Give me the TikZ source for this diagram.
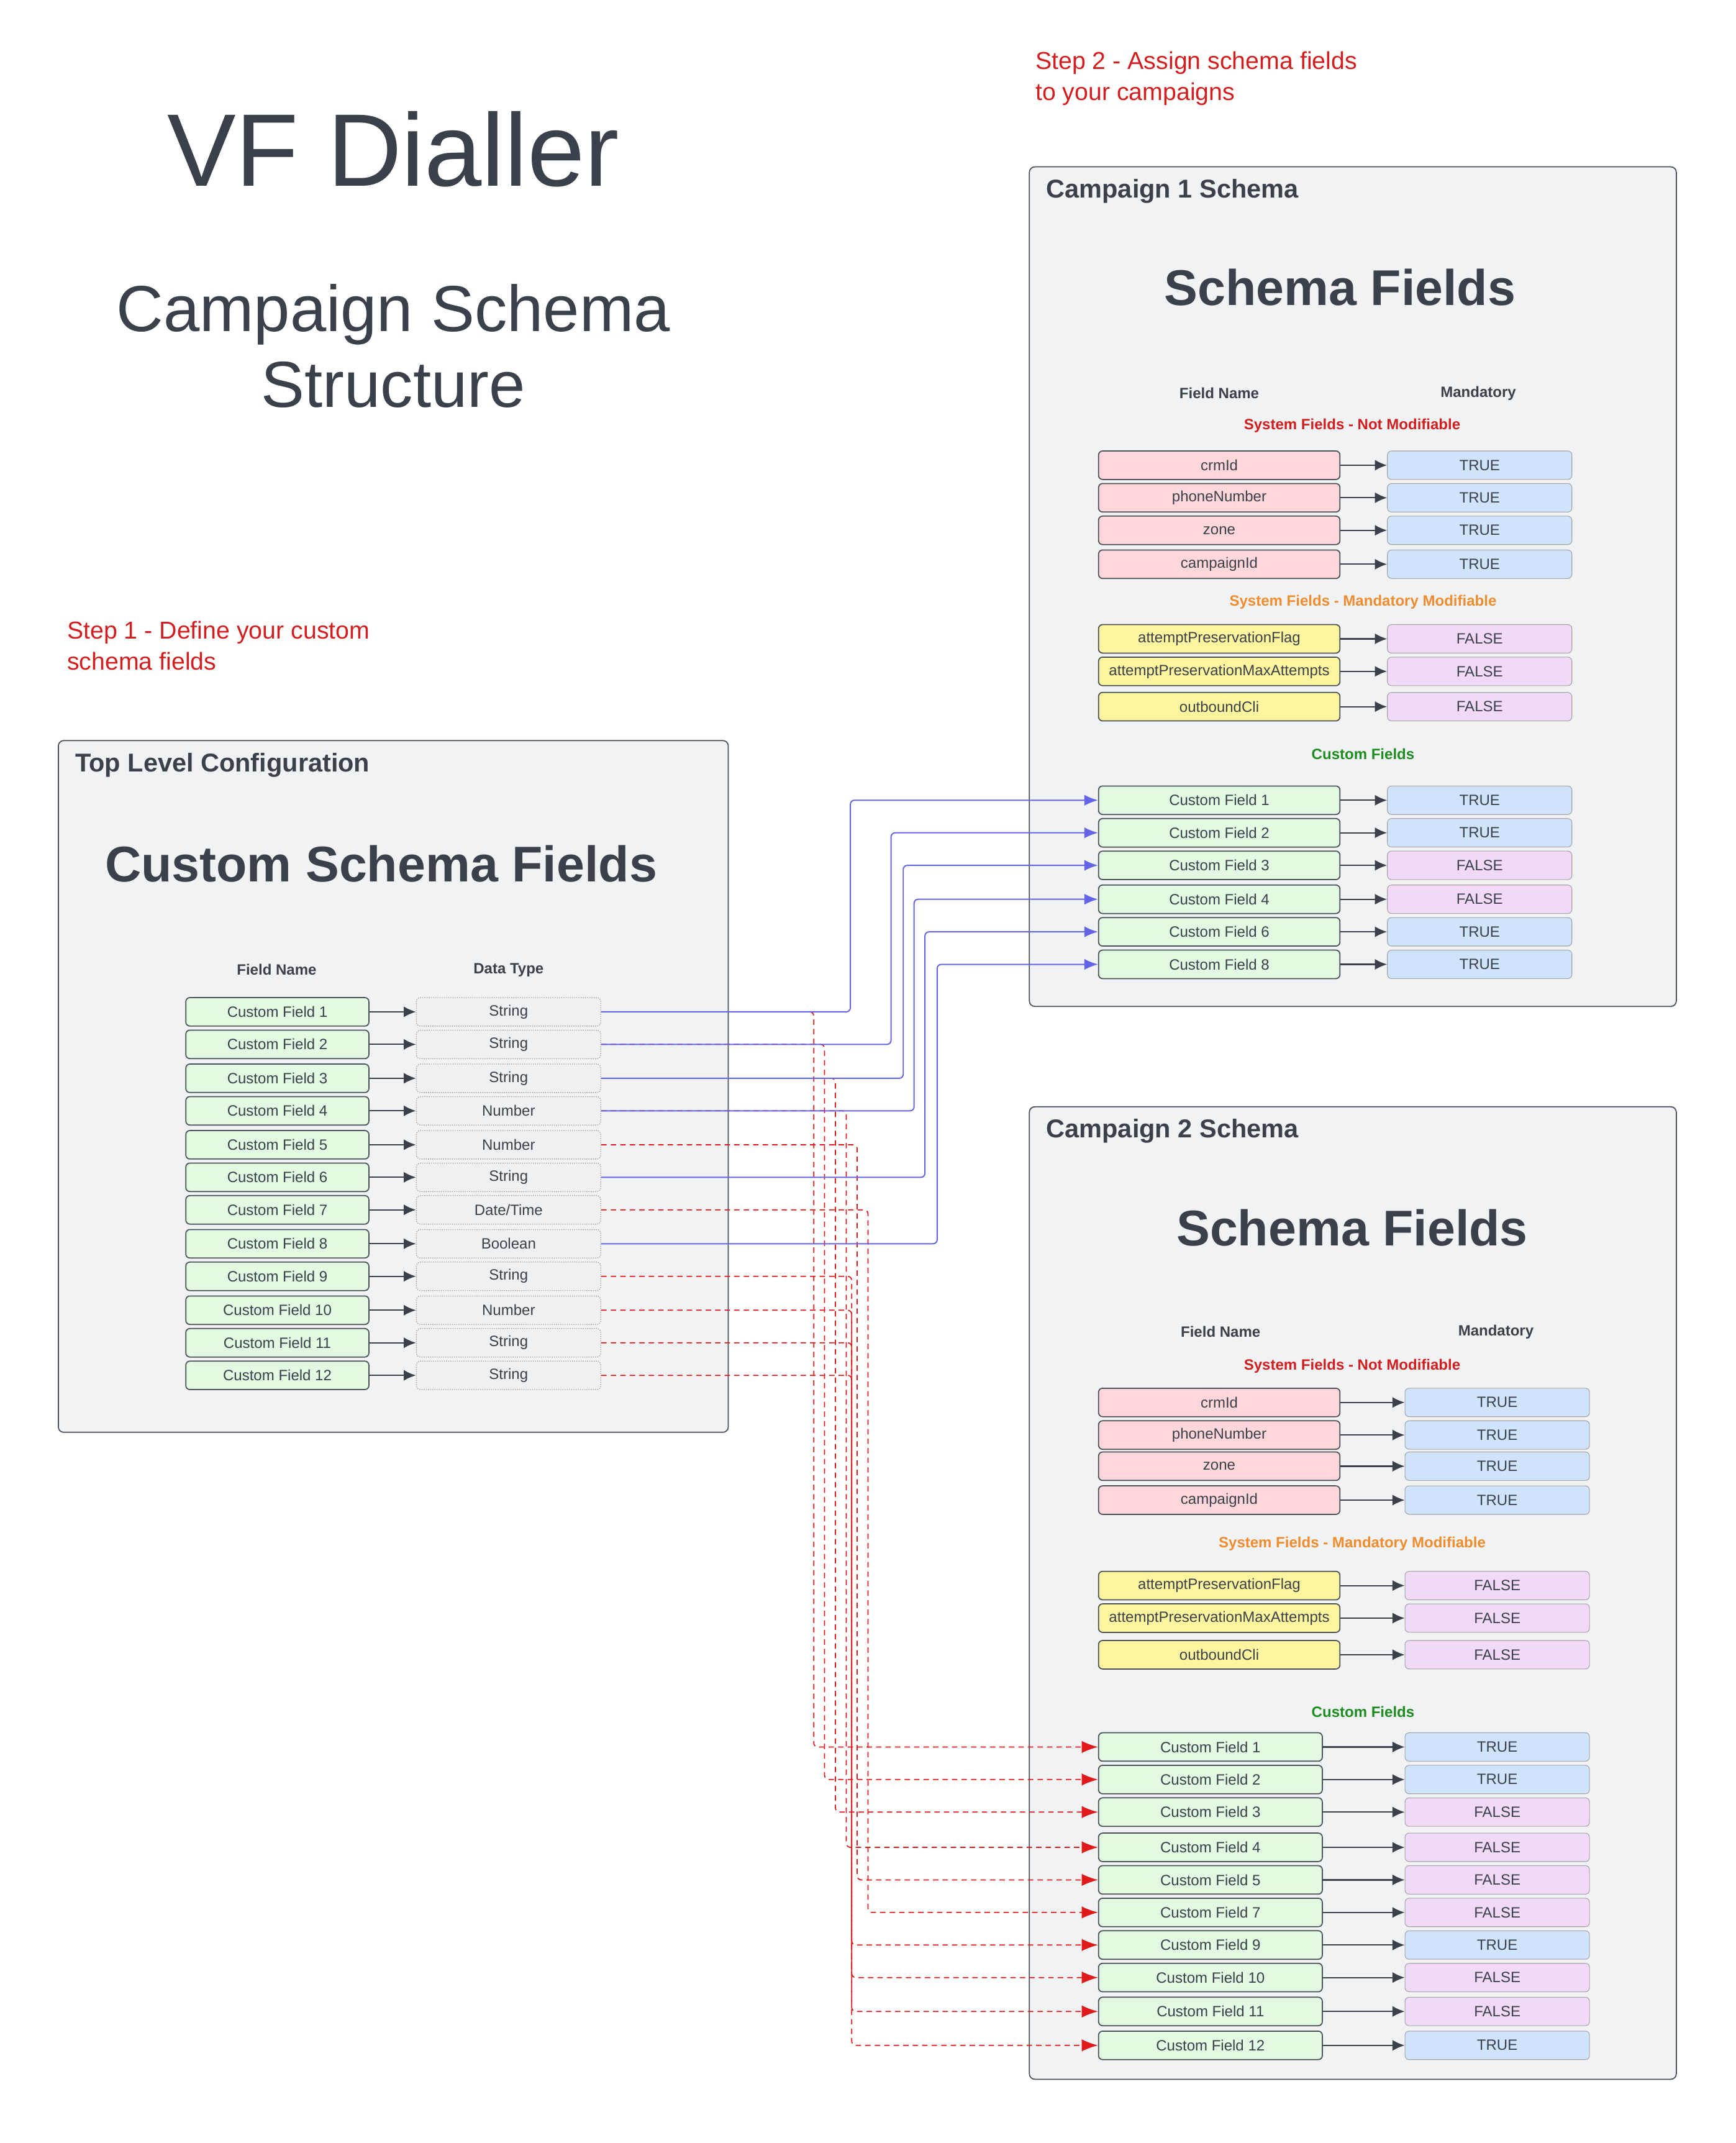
\documentclass[tikz,border=0pt]{standalone}
\usepackage{fontspec}
\setmainfont{Liberation Sans}
\usetikzlibrary{arrows.meta}
\definecolor{txt}{HTML}{3A414A}
\definecolor{bord}{HTML}{4A5058}
\definecolor{panel}{HTML}{F0F2F3}
\definecolor{pinkf}{HTML}{FFD6D9}
\definecolor{bluef}{HTML}{CFE3FA}
\definecolor{purf}{HTML}{F2D9F7}
\definecolor{yelf}{HTML}{FFF59E}
\definecolor{grnf}{HTML}{E2F9E2}
\definecolor{grayf}{HTML}{EEF0F1}
\definecolor{redt}{HTML}{D21E1E}
\definecolor{oranget}{HTML}{EF8C2E}
\definecolor{greent}{HTML}{1E8C1E}
\definecolor{bluel}{HTML}{6464E6}
\definecolor{redl}{HTML}{E01A1A}
\begin{document}
\begin{tikzpicture}[x=1pt,y=-1pt,
  panel/.style={draw=bord,fill=panel,rounded corners=4pt,line width=0.8pt},
  box/.style={draw=bord,rounded corners=3pt,line width=0.8pt,minimum height=21pt,inner sep=0pt,text=txt,font=\fontsize{11}{11}\selectfont},
  dbox/.style={draw=gray!80,densely dotted,rounded corners=3pt,line width=0.6pt,minimum height=21pt,inner sep=0pt,text=txt,font=\fontsize{11}{11}\selectfont},
  vbox/.style={draw=gray!70,rounded corners=3pt,line width=0.5pt,minimum height=21pt,inner sep=0pt,text=txt,font=\fontsize{11}{11}\selectfont},
  arr/.style={-{Latex[length=9pt,width=8pt]},draw=txt,line width=1pt},
  bl/.style={draw=bluel,line width=0.9pt,rounded corners=3pt,-{Latex[length=10pt,width=8pt]}},
  rd/.style={draw=redl,line width=0.8pt,dash pattern=on 4pt off 3pt,rounded corners=3pt,-{Latex[length=12pt,width=9pt]},arrows={-{Latex[length=12pt,width=9pt,fill=redl]}}},
  hdr/.style={font=\bfseries\fontsize{11}{11}\selectfont,text=txt},
  sub/.style={font=\bfseries\fontsize{11}{11}\selectfont},
  ptitle/.style={font=\bfseries\fontsize{19}{19}\selectfont,text=txt,anchor=west},
  big/.style={font=\bfseries\fontsize{37}{37}\selectfont,text=txt}
]
\useasboundingbox[fill=white] (0,0) rectangle (1280,1580);
\newcommand{\lw}[1]{\raisebox{-5pt}{#1}}
% titles
\node[text=txt,font=\fontsize{76}{76}\selectfont] (t1) at (290,110) {VF Dialler};
\node[text=txt,font=\fontsize{48}{56}\selectfont,align=center] (t2) at (290,255) {Campaign Schema\\Structure};
\node[text=redt,font=\fontsize{18}{23}\selectfont,align=left,anchor=west] (s2) at (760,58) {Step 2 - Assign schema fields\\to your campaigns};
\node[text=redt,font=\fontsize{18}{23}\selectfont,align=left,anchor=west] (s1) at (46,476) {Step 1 - Define your custom\\schema fields};

% panels
\draw[panel] (43,546) rectangle (537,1056);
\draw[panel] (759,123) rectangle (1236,742);
\draw[panel] (759,816) rectangle (1236,1533);
\node[ptitle] (p0) at (52,564) {Top Level Configuration};
\node[ptitle] (p1) at (768,141) {Campaign 1 Schema};
\node[ptitle] (p2) at (768,834) {Campaign 2 Schema};
\node[big] (b0) at (281,637) {Custom Schema Fields};
\node[big] (b1) at (988,212) {Schema Fields};
\node[big] (b2) at (997,905) {Schema Fields};

% top level rows
\node[hdr] (h0a) at (204,715) {Field Name};
\node[hdr] (h0b) at (375,715) {Data Type};
\foreach \i/\y/\t in {1/746/String,2/770/String,3/795/String,4/819/Number,5/844/Number,6/868/String,7/892/Date\slash Time,8/917/Boolean,9/941/String,10/966/Number,11/990/String,12/1014/String}{
  \node[box,fill=grnf,minimum width=135pt] (f\i) at (204.5,\y) {\lw{Custom Field \i}};
  \node[dbox,fill=grayf,minimum width=136pt] (d\i) at (375,\y) {\lw{\t}};
  \draw[arr] (f\i.east) -- (d\i.west);
}

% campaign 1
\node[hdr] (h1a) at (899,290) {Field Name};
\node[hdr] (h1b) at (1090,290) {Mandatory};
\node[sub,text=redt] (c1s1) at (997,314) {System Fields - Not Modifiable};
\node[sub,text=oranget] (c1s2) at (1005,444) {System Fields - Mandatory Modifiable};
\node[sub,text=greent] (c1s3) at (1005,556) {Custom Fields};
\foreach \n/\y/\t/\fc/\v/\vc in {a/343/crmId/pinkf/TRUE/bluef,b/367/phoneNumber/pinkf/TRUE/bluef,c/391/zone/pinkf/TRUE/bluef,d/416/campaignId/pinkf/TRUE/bluef,e/471/attemptPreservationFlag/yelf/FALSE/purf,f/495/attemptPreservationMaxAttempts/yelf/FALSE/purf,g/521/outboundCli/yelf/FALSE/purf}{
  \node[box,fill=\fc,minimum width=178pt] (s1\n) at (899,\y) {\lw{\t}};
  \node[vbox,fill=\vc,minimum width=136pt] (s1\n v) at (1091,\y) {\lw{\v}};
  \draw[arr] (s1\n.east) -- (s1\n v.west);
}
\foreach \n/\y/\k/\v/\vc in {a/590/1/TRUE/bluef,b/614/2/TRUE/bluef,c/638/3/FALSE/purf,d/663/4/FALSE/purf,e/687/6/TRUE/bluef,f/711/8/TRUE/bluef}{
  \node[box,fill=grnf,minimum width=178pt] (c1\n) at (899,\y) {\lw{Custom Field \k}};
  \node[vbox,fill=\vc,minimum width=136pt] (c1\n v) at (1091,\y) {\lw{\v}};
  \draw[arr] (c1\n.east) -- (c1\n v.west);
}

% campaign 2
\node[hdr] (h2a) at (900,982) {Field Name};
\node[hdr] (h2b) at (1103,982) {Mandatory};
\node[sub,text=redt] (c2s1) at (997,1007) {System Fields - Not Modifiable};
\node[sub,text=oranget] (c2s2) at (997,1138) {System Fields - Mandatory Modifiable};
\node[sub,text=greent] (c2s3) at (1005,1262) {Custom Fields};
\foreach \n/\y/\t/\fc/\v/\vc in {a/1034/crmId/pinkf/TRUE/bluef,b/1058/phoneNumber/pinkf/TRUE/bluef,c/1081/zone/pinkf/TRUE/bluef,d/1106/campaignId/pinkf/TRUE/bluef,e/1169/attemptPreservationFlag/yelf/FALSE/purf,f/1193/attemptPreservationMaxAttempts/yelf/FALSE/purf,g/1220/outboundCli/yelf/FALSE/purf}{
  \node[box,fill=\fc,minimum width=178pt] (s2\n) at (899,\y) {\lw{\t}};
  \node[vbox,fill=\vc,minimum width=136pt] (s2\n v) at (1104,\y) {\lw{\v}};
  \draw[arr] (s2\n.east) -- (s2\n v.west);
}
\foreach \n/\y/\k/\v/\vc in {a/1288/1/TRUE/bluef,b/1312/2/TRUE/bluef,c/1336/3/FALSE/purf,d/1362/4/FALSE/purf,e/1386/5/FALSE/purf,f/1410/7/FALSE/purf,g/1434/9/TRUE/bluef,h/1458/10/FALSE/purf,i/1483/11/FALSE/purf,j/1508/12/TRUE/bluef}{
  \node[box,fill=grnf,minimum width=165pt] (c2\n) at (892.5,\y) {\lw{Custom Field \k}};
  \node[vbox,fill=\vc,minimum width=136pt] (c2\n v) at (1104,\y) {\lw{\v}};
  \draw[arr] (c2\n.east) -- (c2\n v.west);
}

% red dashed connectors to campaign 2
\foreach \s/\t/\xv in {1/a/600,2/b/608,3/c/616,4/d/624,5/e/632,7/f/640,9/g/628,10/h/628,11/i/628,12/j/628}{
  \coordinate (rv\s) at (\xv,0);
  \draw[rd] (d\s.east) -- (d\s.east -| rv\s) |- (c2\t.west);
}
% blue connectors to campaign 1
\foreach \s/\t/\xv in {1/a/627,2/b/657,3/c/666,4/d/674,6/e/682,8/f/691}{
  \coordinate (bv\s) at (\xv,0);
  \draw[bl] (d\s.east) -- (d\s.east -| bv\s) |- (c1\t.west);
}
\end{tikzpicture}
\end{document}
